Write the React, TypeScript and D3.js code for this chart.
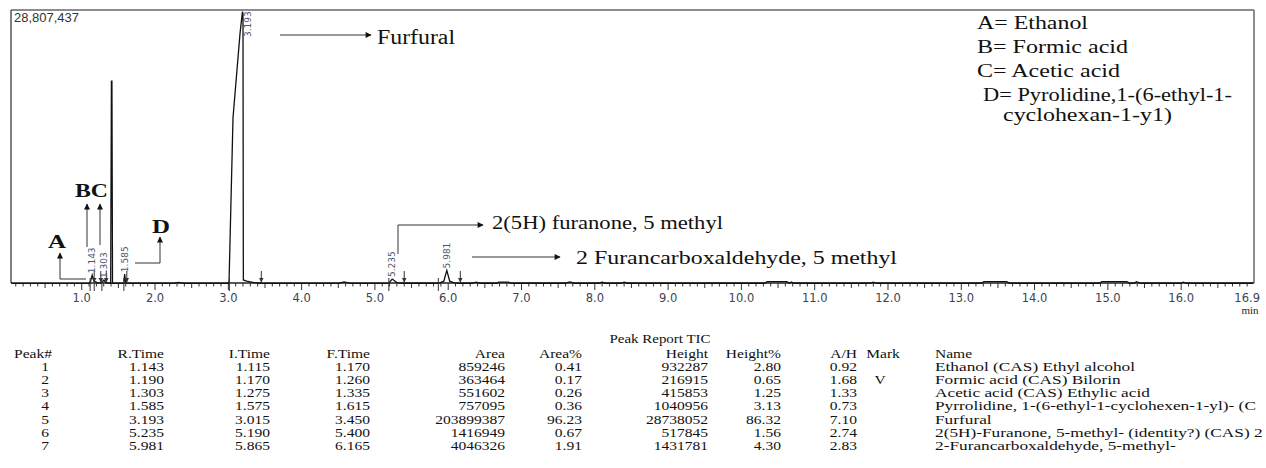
import React from "react";
import * as d3 from "d3";

// ---- data ----
const traceTime = [0.04, 0.9, 1.1, 1.12, 1.143, 1.165, 1.19, 1.22, 1.26, 1.28, 1.303, 1.33, 1.395, 1.405, 1.412, 1.42, 1.45, 1.575, 1.585, 1.6, 1.615, 1.8, 2.25, 2.32, 2.4, 3.0, 3.01, 3.023, 3.064, 3.16, 3.193, 3.2, 3.205, 3.25, 3.35, 3.45, 3.9, 4.5, 4.58, 4.66, 5.15, 5.19, 5.235, 5.3, 5.4, 5.87, 5.94, 5.981, 6.02, 6.08, 6.165, 6.33, 6.38, 6.43, 6.66, 6.69, 6.82, 6.86, 7.6, 7.66, 7.72, 8.05, 8.1, 8.15, 8.36, 8.4, 8.45, 10.32, 10.35, 10.62, 10.66, 10.68, 10.72, 11.76, 11.8, 11.84, 13.27, 13.31, 13.62, 13.66, 14.88, 14.92, 15.26, 15.3, 15.36, 15.39, 15.45, 15.99, 16.03, 16.07, 16.98];
const traceIntensity = [40000, 40000, 45000, 300000, 932287, 350000, 216915, 120000, 100000, 200000, 415853, 150000, 60000, 21400000, 21400000, 60000, 60000, 80000, 1040956, 200000, 70000, 60000, 60000, 180000, 60000, 60000, 300000, 4460000, 17540000, 26470000, 28738052, 28500000, 430000, 300000, 150000, 80000, 70000, 70000, 230000, 70000, 70000, 90000, 517845, 150000, 80000, 80000, 300000, 1431781, 300000, 120000, 80000, 80000, 200000, 80000, 80000, 200000, 200000, 80000, 80000, 230000, 80000, 80000, 180000, 80000, 80000, 200000, 80000, 80000, 250000, 250000, 80000, 220000, 80000, 80000, 200000, 80000, 80000, 250000, 250000, 80000, 80000, 250000, 250000, 80000, 80000, 250000, 80000, 80000, 200000, 80000, 80000];

const yMax = 28807437;
const axisTickValues = [1, 2, 3, 4, 5, 6, 7, 8, 9, 10, 11, 12, 13, 14, 15, 16, 16.9];
const axisTickLabels = ["1.0", "2.0", "3.0", "4.0", "5.0", "6.0", "7.0", "8.0", "9.0", "10.0", "11.0", "12.0", "13.0", "14.0", "15.0", "16.0", "16.9"];

const rtLabelTimes = [1.143, 1.303, 1.585, 3.193, 5.235, 5.981];
const rtLabelHeights = [932287, 415853, 1040956, 28738052, 517845, 1431781];

const peakNo = ["1", "2", "3", "4", "5", "6", "7"];
const rTime = ["1.143", "1.190", "1.303", "1.585", "3.193", "5.235", "5.981"];
const iTime = ["1.115", "1.170", "1.275", "1.575", "3.015", "5.190", "5.865"];
const fTime = ["1.170", "1.260", "1.335", "1.615", "3.450", "5.400", "6.165"];
const areaVals = ["859246", "363464", "551602", "757095", "203899387", "1416949", "4046326"];
const areaPct = ["0.41", "0.17", "0.26", "0.36", "96.23", "0.67", "1.91"];
const heightVals = ["932287", "216915", "415853", "1040956", "28738052", "517845", "1431781"];
const heightPct = ["2.80", "0.65", "1.25", "3.13", "86.32", "1.56", "4.30"];
const ahVals = ["0.92", "1.68", "1.33", "0.73", "7.10", "2.74", "2.83"];
const markVals = ["", "V", "", "", "", "", ""];
const nameVals = [
  "Ethanol (CAS) Ethyl alcohol",
  "Formic acid (CAS) Bilorin",
  "Acetic acid (CAS) Ethylic acid",
  "Pyrrolidine, 1-(6-ethyl-1-cyclohexen-1-yl)- (C",
  "Furfural",
  "2(5H)-Furanone, 5-methyl- (identity?) (CAS) 2",
  "2-Furancarboxaldehyde, 5-methyl-",
];

const legendLines = ["A= Ethanol", "B= Formic acid", "C= Acetic acid", "D= Pyrolidine,1-(6-ethyl-1-", "cyclohexan-1-y1)"];

// ---- layout ----
const W = 1266, H = 468;
const L = 11, R = 1254, TOP = 10, BASE = 283;
const serif = "'Liberation Serif', 'Times New Roman', serif";
const sans = "'Liberation Sans', Arial, sans-serif";

const x = d3.scaleLinear().domain([0.035, 16.98]).range([L, 1253]);
const y = d3.scaleLinear().domain([0, yMax]).range([BASE + 1, TOP + 1]);

type TP = { x: number; y: number; size: number; sx?: number; anchor?: string; weight?: string | number; fill?: string; family?: string; children: React.ReactNode; len?: number };
const T = ({ x, y, size, sx = 1, anchor = "start", weight = "normal", fill = "#111", family = serif, children, len }: TP) => (
  <text
    transform={`translate(${x},${y}) scale(${sx},1)`}
    fontSize={size}
    textAnchor={anchor as any}
    fontWeight={weight as any}
    fill={fill}
    fontFamily={family}
    textLength={len}
    lengthAdjust={len ? "spacingAndGlyphs" : undefined}
  >
    {children}
  </text>
);

export default function App() {
  const pts: [number, number][] = traceTime.map((t, i) => [t, traceIntensity[i]]);
  const line = d3.line<[number, number]>().x((d) => x(d[0])).y((d) => y(d[1]));

  const minorTicks = d3.range(1, 170).map((i) => i / 10);

  const colsRight = [
    { x: 52, head: "Peak#", vals: peakNo },
    { x: 164, head: "R.Time", vals: rTime },
    { x: 270, head: "I.Time", vals: iTime },
    { x: 370, head: "F.Time", vals: fTime },
    { x: 505, head: "Area", vals: areaVals },
    { x: 582, head: "Area%", vals: areaPct },
    { x: 708, head: "Height", vals: heightVals },
    { x: 781, head: "Height%", vals: heightPct },
    { x: 857, head: "A/H", vals: ahVals },
  ];
  const tSx = 1.15, tSize = 13.5;
  const headY = 357.5, row0 = 370.5, rowH = 13.3;

  const arrowHead = "#111";
  const lc = "#333";

  return (
    <svg width={W} height={H} style={{ position: "absolute", left: 0, top: 0, background: "#fff" }}>
      <defs>
        <marker id="ah" viewBox="0 0 10 10" refX="9" refY="5" markerWidth="7" markerHeight="6" orient="auto-start-reverse" markerUnits="userSpaceOnUse">
          <path d="M0,0 L10,5 L0,10 z" fill={arrowHead} />
        </marker>
        <marker id="ahs" viewBox="0 0 10 10" refX="9" refY="5" markerWidth="5" markerHeight="5" orient="auto" markerUnits="userSpaceOnUse">
          <path d="M0,0 L10,5 L0,10 z" fill="#333" />
        </marker>
        <clipPath id="plot">
          <rect x={L} y={TOP} width={R - L} height={BASE - TOP + 1} />
        </clipPath>
      </defs>
      <rect x={0} y={0} width={W} height={H} fill="#fff" />

      {/* frame */}
      <line x1={L} y1={TOP} x2={R} y2={TOP} stroke="#666" strokeWidth={1.5} />
      <line x1={L} y1={TOP} x2={L} y2={BASE} stroke="#555" strokeWidth={1.5} />
      <line x1={R} y1={TOP} x2={R} y2={BASE} stroke="#666" strokeWidth={1.5} />
      <line x1={L} y1={BASE} x2={R} y2={BASE} stroke="#222" strokeWidth={1.3} />

      {/* x ticks */}
      {minorTicks.map((t) => {
        const isInt = Math.abs(t - Math.round(t)) < 1e-6;
        const isHalf = Math.abs(t * 2 - Math.round(t * 2)) < 1e-6;
        const len = isInt ? 7 : isHalf ? 5 : 3.5;
        return <line key={t} x1={x(t)} x2={x(t)} y1={BASE} y2={BASE + len} stroke="#333" strokeWidth={1} />;
      })}
      {axisTickValues.map((t, i) => (
        <T key={t} x={x(t)} y={302} size={11.5} anchor="middle" family="'DejaVu Sans', sans-serif" fill="#3c4450">
          {axisTickLabels[i]}
        </T>
      ))}
      <T x={1250} y={314} size={11} anchor="middle" family={serif} fill="#222">min</T>

      {/* trace */}
      <g clipPath="url(#plot)">
        <path d={line(pts) || ""} fill="none" stroke="#111" strokeWidth={1.3} />
      </g>

      {/* peak start / end markers */}
      {iTime.map((s, i) => {
        const xv = x(+s);
        return <line key={"i" + i} x1={xv} x2={xv} y1={BASE - 5} y2={BASE + 8} stroke="#333" strokeWidth={1} />;
      })}
      {fTime.map((s, i) => {
        const xv = x(+s);
        return <line key={"f" + i} x1={xv} x2={xv} y1={BASE - 12} y2={BASE - 1} stroke="#333" strokeWidth={1} markerEnd="url(#ahs)" />;
      })}

      {/* retention time labels */}
      {rtLabelTimes.map((t, i) => {
        const top = y(rtLabelHeights[i]);
        const tall = top < 60;
        const px = x(t) + (tall ? 6 : 0);
        const bottom = tall ? 37 : Math.min(top - 2, 279);
        return (
          <text key={t} transform={`translate(${px + 3},${bottom}) rotate(-90)`} fontSize={9} fontFamily="'DejaVu Sans', sans-serif" fill="#4a5870">
            {t.toFixed(3)}
          </text>
        );
      })}

      {/* intensity max */}
      <T x={14} y={22} size={13} family={sans} fill="#333">28,807,437</T>

      {/* annotations */}
      <line x1={280} y1={35} x2={371} y2={35} stroke={lc} strokeWidth={1} markerEnd="url(#ah)" />
      <T x={377} y={44} size={20} len={78}>Furfural</T>

      {legendLines.map((s, i) => (
        <T key={s} x={i === 3 ? 983 : i === 4 ? 1003 : 977} y={[29, 53, 77, 101, 121][i]} size={18} len={[111, 151, 143, 249, 169][i]}>
          {s}
        </T>
      ))}

      <T x={75} y={197} size={19} weight="bold" len={33}>BC</T>
      <T x={48} y={248} size={19} weight="bold" len={18}>A</T>
      <T x={152} y={233} size={19} weight="bold" len={18}>D</T>

      <line x1={87} y1={247} x2={87} y2={204} stroke={lc} strokeWidth={1} markerEnd="url(#ah)" />
      <line x1={100} y1={245} x2={100} y2={204} stroke={lc} strokeWidth={1} markerEnd="url(#ah)" />
      <path d="M86,279 L60,279 L60,253" fill="none" stroke={lc} strokeWidth={1} markerEnd="url(#ah)" />
      <path d="M135,263 L160,263 L160,237" fill="none" stroke={lc} strokeWidth={1} markerEnd="url(#ah)" />

      <path d="M398,254 L398,225 L483,225" fill="none" stroke={lc} strokeWidth={1} markerEnd="url(#ah)" />
      <T x={492} y={229} size={19} len={231}>2(5H) furanone, 5 methyl</T>
      <line x1={472} y1={257} x2={560} y2={257} stroke={lc} strokeWidth={1} markerEnd="url(#ah)" />
      <T x={576} y={264} size={19} len={321}>2 Furancarboxaldehyde, 5 methyl</T>

      {/* table */}
      <T x={660} y={343} size={13} sx={tSx} anchor="middle">Peak Report TIC</T>
      {colsRight.map((c) => (
        <g key={c.head}>
          <T x={c.x} y={headY} size={tSize} sx={tSx} anchor="end">{c.head}</T>
          {c.vals.map((v, i) => (
            <T key={i} x={c.head === "Peak#" ? 49 : c.x} y={row0 + i * rowH} size={tSize} sx={tSx} anchor="end">{v}</T>
          ))}
        </g>
      ))}
      <T x={883} y={headY} size={tSize} sx={tSx} anchor="middle">Mark</T>
      {markVals.map((v, i) => (
        <T key={"m" + i} x={880} y={row0 + i * rowH} size={tSize} sx={tSx} anchor="middle">{v}</T>
      ))}
      <T x={935} y={headY} size={tSize} sx={tSx}>Name</T>
      {nameVals.map((v, i) => (
        <T key={"n" + i} x={935} y={row0 + i * rowH} size={tSize} sx={1.28}>{v}</T>
      ))}
    </svg>
  );
}
